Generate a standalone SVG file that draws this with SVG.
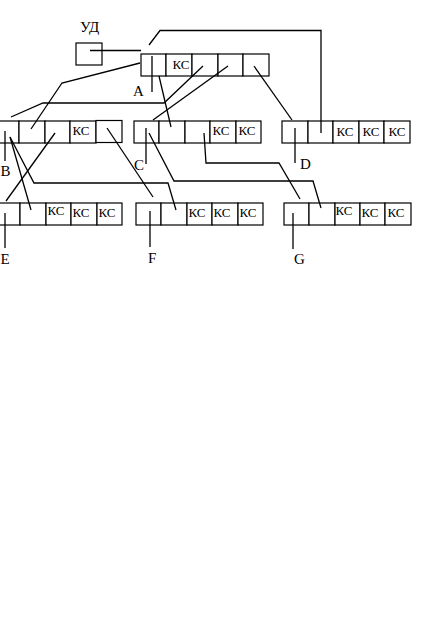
<svg xmlns="http://www.w3.org/2000/svg" width="431" height="643" viewBox="0 0 431 643">
<style>
.c{fill:#fff;stroke:#000;stroke-width:1.2}
.k{font-family:"Liberation Serif",serif;font-size:13px;text-anchor:middle;fill:#000}
.l{font-family:"Liberation Serif",serif;font-size:15px;fill:#000}
.w{fill:none;stroke:#000;stroke-width:1.3}
</style>
<rect width="431" height="643" fill="#fff"/>
<g id="UD">
<rect class="c" x="76" y="43" width="26" height="22"/>
<text class="l" x="80" y="32" font-size="16">УД</text>
</g>
<g id="A">
<rect class="c" x="141" y="54" width="25" height="22"/>
<rect class="c" x="166" y="54" width="26" height="22"/>
<rect class="c" x="192" y="54" width="26" height="22"/>
<rect class="c" x="218" y="54" width="25" height="22"/>
<rect class="c" x="243" y="54" width="26" height="22"/>
<text class="k" x="181" y="69">КС</text>
<text class="l" x="133" y="96">A</text>
</g>
<g id="B">
<rect class="c" x="-6" y="121" width="25" height="22"/>
<rect class="c" x="19" y="121" width="26" height="22"/>
<rect class="c" x="45" y="121" width="25" height="22"/>
<rect class="c" x="70" y="121" width="26" height="22"/>
<rect class="c" x="96" y="120.5" width="26" height="22"/>
<text class="k" x="81" y="135">КС</text>
<text class="l" x="0.5" y="176">B</text>
</g>
<g id="C">
<rect class="c" x="134" y="121" width="25" height="22"/>
<rect class="c" x="159" y="121" width="26" height="22"/>
<rect class="c" x="185" y="121" width="25" height="22"/>
<rect class="c" x="210" y="121" width="26" height="22"/>
<rect class="c" x="236" y="121" width="25" height="22"/>
<text class="k" x="221" y="135">КС</text>
<text class="k" x="247" y="135">КС</text>
<text class="l" x="134" y="170">C</text>
</g>
<g id="D">
<rect class="c" x="282" y="121" width="26" height="22"/>
<rect class="c" x="308" y="121" width="25" height="22"/>
<rect class="c" x="333" y="121" width="26" height="22"/>
<rect class="c" x="359" y="121" width="25" height="22"/>
<rect class="c" x="384" y="121" width="26" height="22"/>
<text class="k" x="345" y="136">КС</text>
<text class="k" x="371" y="136">КС</text>
<text class="k" x="397" y="136">КС</text>
<text class="l" x="300" y="169">D</text>
</g>
<g id="E">
<rect class="c" x="-5" y="203" width="25" height="22"/>
<rect class="c" x="20" y="203" width="26" height="22"/>
<rect class="c" x="46" y="203" width="25" height="22"/>
<rect class="c" x="71" y="203" width="26" height="22"/>
<rect class="c" x="97" y="203" width="25" height="22"/>
<text class="k" x="56" y="215">КС</text>
<text class="k" x="81" y="217">КС</text>
<text class="k" x="107" y="217">КС</text>
<text class="l" x="0.5" y="264">E</text>
</g>
<g id="F">
<rect class="c" x="136" y="203" width="25" height="22"/>
<rect class="c" x="161" y="203" width="26" height="22"/>
<rect class="c" x="187" y="203" width="25" height="22"/>
<rect class="c" x="212" y="203" width="26" height="22"/>
<rect class="c" x="238" y="203" width="25" height="22"/>
<text class="k" x="197" y="217">КС</text>
<text class="k" x="222" y="217">КС</text>
<text class="k" x="248" y="217">КС</text>
<text class="l" x="148" y="263">F</text>
</g>
<g id="G">
<rect class="c" x="284" y="203" width="25" height="22"/>
<rect class="c" x="309" y="203" width="26" height="22"/>
<rect class="c" x="335" y="203" width="25" height="22"/>
<rect class="c" x="360" y="203" width="25" height="22"/>
<rect class="c" x="385" y="203" width="26" height="22"/>
<text class="k" x="344" y="215">КС</text>
<text class="k" x="370" y="217">КС</text>
<text class="k" x="396" y="217">КС</text>
<text class="l" x="294" y="264">G</text>
</g>
<g id="connectors">
<path class="w" d="M90 50.5H141"/>
<path class="w" d="M149 45L160 30.5H321V133"/>
<path class="w" d="M152 56V92"/>
<path class="w" d="M140 63L62 83L31 129"/>
<path class="w" d="M159 76L171 127"/>
<path class="w" d="M203 66L164 103H43L11 117"/>
<path class="w" d="M228 66L153 120"/>
<path class="w" d="M254 66L292 120"/>
<path class="w" d="M5 131V161"/>
<path class="w" d="M10 137L31 210"/>
<path class="w" d="M10 137L34 183H168L176 210"/>
<path class="w" d="M55 133L6 201"/>
<path class="w" d="M107 128L153 197"/>
<path class="w" d="M146 128V164"/>
<path class="w" d="M149 133L174 181H313L321 208"/>
<path class="w" d="M204 133L206 163H279L300 199"/>
<path class="w" d="M295 128V163"/>
<path class="w" d="M5 213V248"/>
<path class="w" d="M150 211V247"/>
<path class="w" d="M293 213V249"/>
</g>
</svg>
